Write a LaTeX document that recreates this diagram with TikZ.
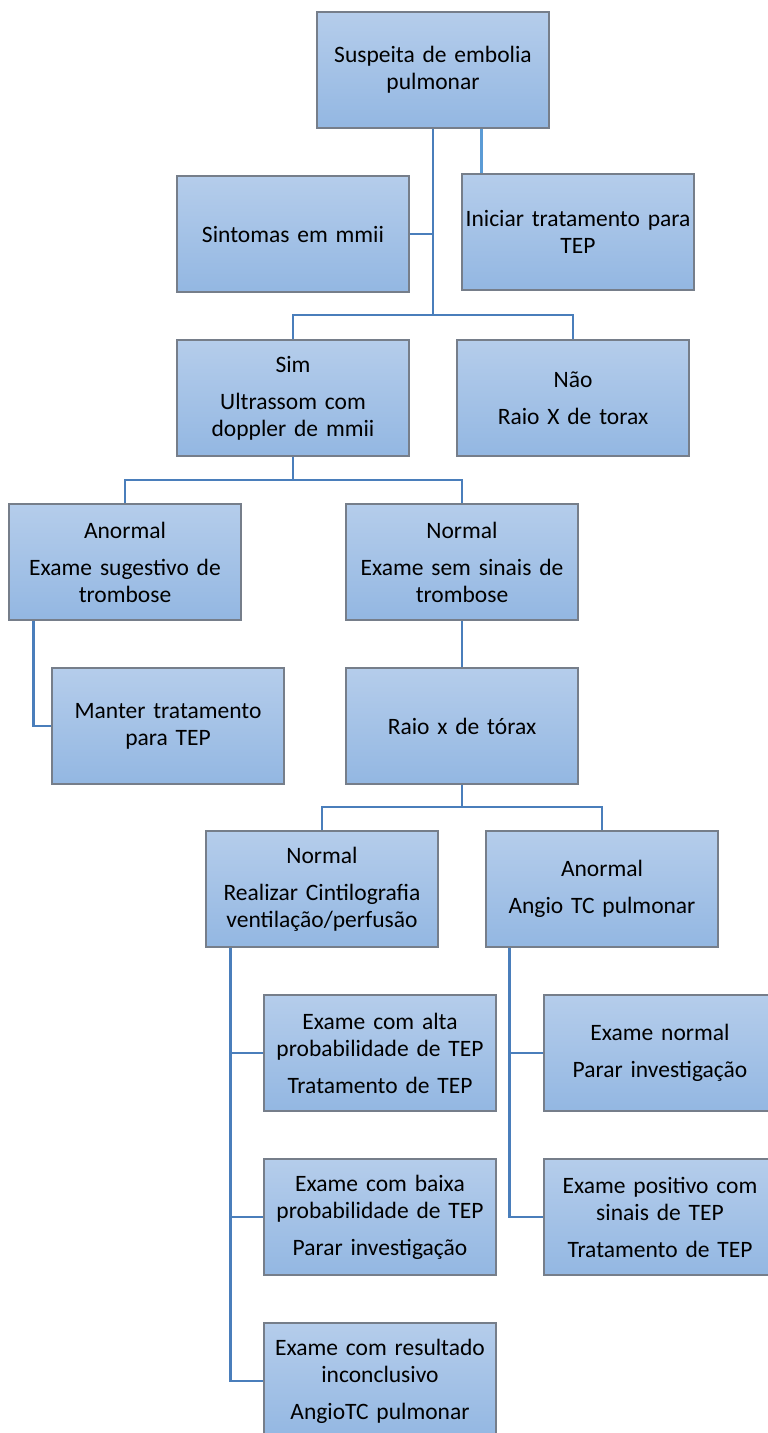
\documentclass[tikz,border=0pt]{standalone}
\usepackage{fontspec}
\setmainfont{Carlito}
\definecolor{boxtop}{RGB}{181,205,235}
\definecolor{boxbot}{RGB}{147,183,226}
\definecolor{boxline}{RGB}{118,126,138}
\definecolor{connc}{RGB}{74,126,187}
\definecolor{connl}{RGB}{91,155,213}
\begin{document}
\begin{tikzpicture}[x=1pt,y=-1pt,
  box/.style={rectangle, draw=boxline, line width=1.2pt, top color=boxtop, bottom color=boxbot,
    minimum width=232pt, minimum height=116pt, inner sep=0pt, text width=230pt, align=center,
    font=\fontsize{23.5}{27}\selectfont},
  conn/.style={draw=connc, line width=2.6pt},
  connlt/.style={draw=connl, line width=3pt}]
\useasboundingbox (0,0) rectangle (768,1433);
\clip (0,0) rectangle (768,1433);
\node[box] (susp) at (433,70) {Suspeita de embolia\\pulmonar};
\node[box] (sint) at (293,234) {Sintomas em mmii};
\node[box] (inic) at (578,232) {Iniciar tratamento para\\TEP};
\node[box] (sim) at (293,398) {Sim\\[10pt]Ultrassom com\\doppler de mmii};
\node[box] (nao) at (573,398) {Não\\[10pt]Raio X de torax};
\node[box] (anor) at (125,562) {Anormal\\[10pt]Exame sugestivo de\\trombose};
\node[box] (norm) at (462,562) {Normal\\[10pt]Exame sem sinais de\\trombose};
\node[box] (mant) at (168,726) {Manter tratamento\\para TEP};
\node[box] (raio) at (462,726) {Raio x de tórax};
\node[box] (norm2) at (322,889) {Normal\\[10pt]Realizar Cintilografia\\ventilação/perfusão};
\node[box] (anor2) at (602,889) {Anormal\\[10pt]Angio TC pulmonar};
\node[box] (alta) at (380,1053) {Exame com alta\\probabilidade de TEP\\[10pt]Tratamento de TEP};
\node[box] (exnorm) at (660,1053) {Exame normal\\[10pt]Parar investigação};
\node[box] (baixa) at (380,1217) {Exame com baixa\\probabilidade de TEP\\[10pt]Parar investigação};
\node[box] (expos) at (660,1217) {Exame positivo com\\sinais de TEP\\[10pt]Tratamento de TEP};
\node[box] (incon) at (380,1381) {Exame com resultado\\inconclusivo\\[10pt]AngioTC pulmonar};
% connectors
\coordinate (j1) at (433,315);
\draw[conn] (susp.south) -- (j1);
\draw[conn] (sint.east) -- (sint.east -| j1);
\draw[conn] (sim.north) |- (j1) -| (nao.north);
\draw[connlt] ([xshift=48pt]susp.south) -- ([xshift=48pt]susp.south |- inic.north);
\coordinate (j2) at (293,480);
\draw[conn] (sim.south) -- (j2);
\draw[conn] (anor.north) |- (j2) -| (norm.north);
\draw[conn] ([xshift=25pt]anor.south west) |- (mant.west);
\draw[conn] (norm.south) -- (raio.north);
\coordinate (j3) at (462,807);
\draw[conn] (raio.south) -- (j3);
\draw[conn] (norm2.north) |- (j3) -| (anor2.north);
\draw[conn] ([xshift=25pt]norm2.south west) |- (incon.west);
\draw[conn] ([xshift=25pt]norm2.south west |- alta.west) -- (alta.west);
\draw[conn] ([xshift=25pt]norm2.south west |- baixa.west) -- (baixa.west);
\draw[conn] ([xshift=24pt]anor2.south west) |- (expos.west);
\draw[conn] ([xshift=24pt]anor2.south west |- exnorm.west) -- (exnorm.west);
\end{tikzpicture}
\end{document}
